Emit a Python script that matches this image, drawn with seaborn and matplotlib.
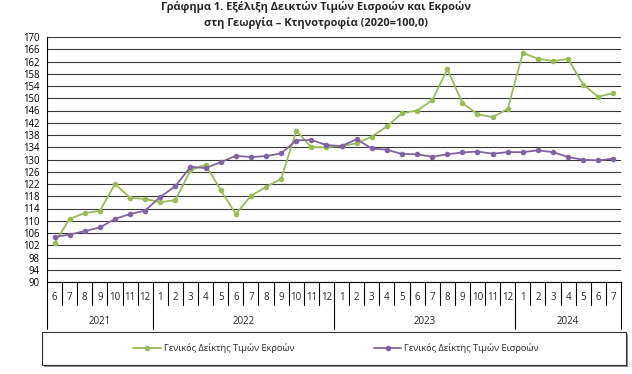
import numpy as np
import pandas as pd
import matplotlib
matplotlib.use("Agg")
import matplotlib.pyplot as plt
import matplotlib.patches as mpatches
import matplotlib.transforms as mtransforms
from matplotlib.lines import Line2D
import seaborn as sns

# -----------------------
# Data
# -----------------------

month_labels = [6, 7, 8, 9, 10, 11, 12,
                1, 2, 3, 4, 5, 6, 7, 8, 9, 10, 11, 12,
                1, 2, 3, 4, 5, 6, 7, 8, 9, 10, 11, 12,
                1, 2, 3, 4, 5, 6, 7]
year_labels = ["2021", "2022", "2023", "2024"]
months_per_year = [7, 12, 12, 7]

outputs_index = [102.8, 110.6, 112.5, 113.2, 122.0, 117.5, 117.1,
                 116.1, 116.7, 126.5, 128.3, 120.0, 112.2, 118.1, 121.1, 123.6, 139.4, 134.0, 134.0,
                 134.4, 135.3, 137.5, 140.8, 145.1, 146.0, 149.3, 159.5, 148.5, 144.8, 143.8, 146.5,
                 164.8, 162.9, 162.2, 162.8, 154.4, 150.5, 151.7]
inputs_index = [104.7, 105.5, 106.6, 107.8, 110.6, 112.2, 113.3,
                117.8, 121.3, 127.6, 127.2, 129.1, 131.2, 130.8, 131.1, 132.0, 136.2, 136.4, 134.7,
                134.4, 136.6, 133.6, 133.2, 131.8, 131.7, 130.9, 131.7, 132.3, 132.6, 131.9, 132.4,
                132.4, 133.0, 132.4, 130.8, 129.9, 129.7, 130.3]

outputs_name = "Γενικός Δείκτης Τιμών Εκροών"
inputs_name = "Γενικός Δείκτης Τιμών Εισροών"
title = "Γράφημα 1. Εξέλιξη Δεικτών Τιμών Εισροών και Εκροών\nστη Γεωργία – Κτηνοτροφία (2020=100,0)"

green = "#9BBB59"
purple = "#8064A2"

n = len(month_labels)
df = pd.DataFrame({
    "pos": list(range(n)) * 2,
    "value": outputs_index + inputs_index,
    "series": [outputs_name] * n + [inputs_name] * n,
})

# -----------------------
# Figure
# -----------------------

sns.set_style("white")
plt.rcParams["font.family"] = ["Open Sans", "DejaVu Sans"]

W, H = 632, 374
fig = plt.figure(figsize=(W / 100, H / 100), dpi=100)

left, right, top, bottom = 47, 621, 37, 282
ax = fig.add_axes([left / W, 1 - bottom / H, (right - left) / W, (bottom - top) / H])
ax_h = bottom - top

sns.lineplot(
    data=df, x="pos", y="value", hue="series",
    palette={outputs_name: green, inputs_name: purple},
    marker="o", markersize=4, markeredgewidth=0,
    linewidth=1.3, legend=False, ax=ax
)

ax.set_xlim(-0.5, n - 0.5)
ax.set_ylim(90, 170)
ax.set_yticks(np.arange(90, 171, 4))
ax.set_yticks(np.arange(90, 171, 1), minor=True)
ax.tick_params(axis="y", which="major", length=4, width=0.6, labelsize=6.9, pad=1.5, colors="black")
ax.tick_params(axis="y", which="minor", length=2, width=0.5, colors="black")
ax.yaxis.grid(True, which="major", color="#3a3a3a", linewidth=0.8)
ax.set_axisbelow(True)

ax.set_xticks(np.arange(-0.5, n, 1))
ax.set_xticklabels([])
ax.tick_params(axis="x", direction="in", length=3, width=0.6, colors="black")

ax.set_xlabel("")
ax.set_ylabel("")
for side in ["top", "right"]:
    ax.spines[side].set_visible(False)
for side in ["left", "bottom"]:
    ax.spines[side].set_color("black")
    ax.spines[side].set_linewidth(0.8)

# multi-level category axis
blend = mtransforms.blended_transform_factory(ax.transData, ax.transAxes)
month_sep = -23 / ax_h
year_sep = -47 / ax_h

for i, m in enumerate(month_labels):
    ax.text(i, -15 / ax_h, str(m), transform=blend, ha="center", va="center", fontsize=7)

year_edges = np.concatenate([[0], np.cumsum(months_per_year)]) - 0.5
for i in range(n + 1):
    x = i - 0.5
    depth = year_sep if x in year_edges else month_sep
    ax.plot([x, x], [0, depth], transform=blend, clip_on=False, color="black", linewidth=0.8)

for k, yl in enumerate(year_labels):
    xc = (year_edges[k] + year_edges[k + 1]) / 2
    ax.text(xc, -39 / ax_h, yl, transform=blend, ha="center", va="center", fontsize=7)

# title
fig.text(0.5, 1 - 15 / H, title, ha="center", va="center", fontsize=7.9,
         fontweight="bold", linespacing=1.4)

# legend box with shadow
bx0, bx1, by0, by1 = 42, 626, 332, 365
shadow = mpatches.Rectangle((bx0 / W + 2 / W, 1 - by1 / H - 2 / H), (bx1 - bx0) / W, (by1 - by0) / H,
                            transform=fig.transFigure, facecolor="#8c8c8c", edgecolor="none")
box = mpatches.Rectangle((bx0 / W, 1 - by1 / H), (bx1 - bx0) / W, (by1 - by0) / H,
                         transform=fig.transFigure, facecolor="white", edgecolor="#333333", linewidth=0.8)
fig.patches.extend([shadow, box])

handles = [
    Line2D([], [], color=green, marker="o", markersize=4, markeredgewidth=0, linewidth=1.3),
    Line2D([], [], color=purple, marker="o", markersize=4, markeredgewidth=0, linewidth=1.3),
]
fig.legend(handles, [outputs_name, inputs_name], loc="center",
           bbox_to_anchor=(336 / W, 1 - 348.5 / H), ncol=2, frameon=False,
           fontsize=6.7, handlelength=3.0, handletextpad=0.3, columnspacing=8.5,
           markerscale=1.0)

plt.savefig("out.png", dpi=100)
plt.close()
